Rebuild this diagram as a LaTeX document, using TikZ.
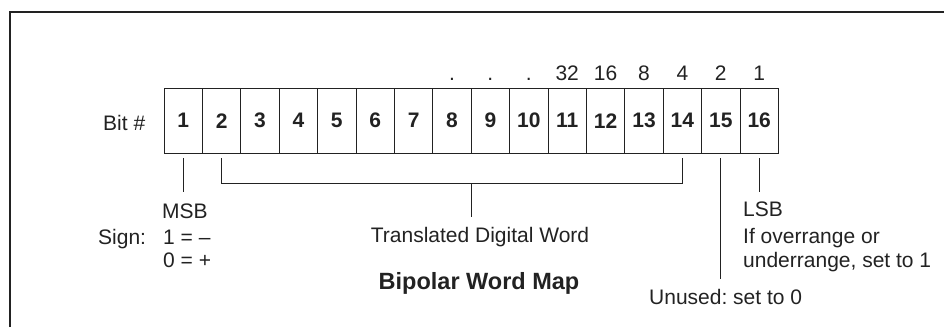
\documentclass[tikz,border=0pt]{standalone}
\usepackage{fontspec}
\setmainfont{Liberation Sans}
\frenchspacing
\definecolor{ink}{HTML}{222222}
\tikzset{
  cell/.style={draw=ink, line width=0.9pt, minimum width=38.4pt, minimum height=64.5pt, inner sep=0pt, font=\fontsize{21}{25}\selectfont\bfseries, text=ink},
  lbl/.style={inner sep=0pt, font=\fontsize{21}{25}\selectfont\frenchspacing, text=ink},
  ttl/.style={inner sep=0pt, font=\fontsize{23.5}{28}\selectfont\bfseries, text=ink},
  wire/.style={draw=ink, line width=0.9pt},
  frame/.style={draw=ink, line width=2pt}
}
\begin{document}
\begin{tikzpicture}[x=1pt, y=-1pt]
\useasboundingbox (0,0) rectangle (944,327);
\draw[frame] (10,327) -- (10,12.2) -- (944,12.2);
% cells
\foreach \k in {1,...,16} {
  \node[cell] (c\k) at ({164+(\k-0.5)*38.4},120.75) {\k};
}
% weights above
\foreach \k/\t in {8/., 9/., 10/., 11/32, 12/16, 13/8, 14/4, 15/2, 16/1} {
  \node[lbl, anchor=base] (w\k) at (c\k.center |- 0,80) {\t};
}
\node[lbl, anchor=base west] (bit) at (103,130.5) {Bit \#};
% labels below
\node[lbl, anchor=base west] (msb) at (162,218) {MSB};
\node[lbl, anchor=base west] (sign) at (98,244) {Sign:};
\node[lbl, anchor=base west] (s1) at (163,244) {1 = \textendash};
\node[lbl, anchor=base west] (s0) at (163,267) {0 = +};
\node[lbl, anchor=base] (tdw) at (480,242.7) {Translated Digital Word};
\node[ttl, anchor=base] (title) at (479,289.5) {Bipolar Word Map};
\node[lbl, anchor=base west] (lsb) at (743,216.7) {LSB};
\node[lbl, anchor=base west] (ov1) at (743,243) {If overrange or};
\node[lbl, anchor=base west] (ov2) at (743,267) {underrange, set to 1};
\node[lbl, anchor=base west] (unu) at (649,304) {Unused: set to 0};
% connectors
\draw[wire] ([yshift=-5pt]c1.south) -- ++(0,34);
\draw[wire] ([yshift=-5pt]c2.south) -- ++(0,25) -| ([yshift=-5pt]c14.south);
\coordinate (bk) at (c8.south east |- 0,183);
\draw[wire] (bk) -- ++(0,34);
\draw[wire] ([yshift=-5pt]c15.south) -- ++(0,121);
\draw[wire] ([yshift=-5pt]c16.south) -- ++(0,34);
\end{tikzpicture}
\end{document}
